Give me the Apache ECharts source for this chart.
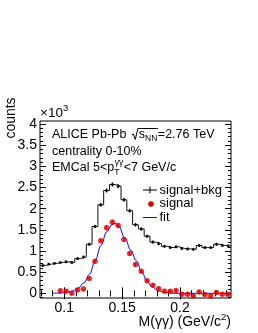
<!DOCTYPE html>
<html><head><meta charset="utf-8">
<script src="https://cdn.jsdelivr.net/npm/echarts@6/dist/echarts.min.js"></script>
<style>html,body{margin:0;padding:0;background:#fff}#c{width:258px;height:333px}</style>
</head><body><div id="c"></div>
<script>
// ---- data (counts in units of 10^3) ----
const binWidth = 0.005;
const binCenters = [0.0815,0.0865,0.0915,0.0965,0.1015,0.1065,0.1115,0.1165,0.1215,0.1265,0.1315,0.1365,0.1415,0.1465,0.1515,0.1565,0.1615,0.1665,0.1715,0.1765,0.1815,0.1865,0.1915,0.1965,0.2015,0.2065,0.2115,0.2165,0.2215,0.2265,0.2315,0.2365,0.2415];
const sigBkg = [0.66,0.69,0.71,0.73,0.745,0.73,0.82,0.86,1.16,1.58,2.09,2.43,2.57,2.53,2.21,1.95,1.62,1.52,1.35,1.21,1.17,1.11,1.08,1.10,1.06,1.05,1.04,1.13,1.08,1.08,1.16,1.13,1.12];
const sigBkgErr = [0.026,0.026,0.027,0.027,0.027,0.027,0.029,0.029,0.034,0.040,0.046,0.049,0.051,0.050,0.047,0.044,0.040,0.039,0.037,0.035,0.034,0.033,0.033,0.033,0.033,0.032,0.032,0.034,0.033,0.033,0.034,0.034,0.033];
const sigCenters = [0.0965,0.1015,0.1065,0.1115,0.1165,0.1215,0.1265,0.1315,0.1365,0.1415,0.1465,0.1515,0.1565,0.1615,0.1665,0.1715,0.1765,0.1815,0.1865,0.1915,0.1965,0.2015,0.2065,0.2115,0.2165,0.2215,0.2265,0.2315,0.2365,0.2415];
const signal = [0.06,0.05,0.00,0.08,0.10,0.35,0.76,1.24,1.55,1.68,1.60,1.27,0.94,0.68,0.52,0.30,0.19,0.11,0.05,0.05,0.07,-0.02,-0.02,-0.06,0.03,-0.03,-0.06,0.02,-0.02,-0.02];
const signalErr = [0.038,0.039,0.040,0.041,0.042,0.045,0.050,0.056,0.060,0.062,0.061,0.057,0.053,0.050,0.048,0.046,0.045,0.045,0.045,0.045,0.045,0.045,0.045,0.046,0.046,0.046,0.046,0.047,0.047,0.047];
const fitX = [0.0900,0.0963,0.1015,0.1066,0.1118,0.1170,0.1218,0.1265,0.1317,0.1366,0.1412,0.1438,0.1468,0.1524,0.1574,0.1622,0.1669,0.1712,0.1755,0.1812,0.1870,0.1930,0.1999,0.2100,0.2200,0.2300,0.2430];
const fitY = [0.00,0.005,0.02,0.05,0.12,0.25,0.45,0.76,1.13,1.45,1.62,1.65,1.60,1.30,1.02,0.77,0.51,0.30,0.16,0.06,0.02,0.005,0.0,0.0,0.0,0.0,0.0];
const xTickLabels = [0.1, 0.15, 0.2];
const yTickLabels = [0, 0.5, 1, 1.5, 2, 2.5, 3, 3.5, 4];
const xRange = [0.079, 0.244];
const yRange = [-0.11, 4.07];

// ---- helpers ----
const FONT = '"Liberation Sans", Arial, Helvetica, sans-serif';
const mctx = document.createElement('canvas').getContext('2d');
function tw(t, s) { mctx.font = s + 'px ' + FONT; return mctx.measureText(t).width; }
function txt(t, x, base, s, align, extra) {
  return Object.assign({
    type: 'text', x: x, y: base - 0.3465 * s, silent: true,
    style: { text: t, font: s + 'px ' + FONT, fill: '#000', align: align || 'left', textAlign: align || 'left', verticalAlign: 'middle', textVerticalAlign: 'middle' }
  }, extra || {});
}
function line(x1, y1, x2, y2, color) {
  return { type: 'line', silent: true, shape: { x1, y1, x2, y2 }, style: { stroke: color || '#000', lineWidth: 1 } };
}

const xMinor = []; for (let v = 0.08; v <= xRange[1] + 1e-9; v += 0.01) xMinor.push(+v.toFixed(3));
const yMinor = []; for (let v = -0.1; v <= yRange[1] + 1e-9; v += 0.1) yMinor.push(+v.toFixed(2));

function xAx(pos, vals, len, labels) {
  return {
    type: 'value', min: xRange[0], max: xRange[1], position: pos,
    axisLine: { show: false }, splitLine: { show: false },
    axisTick: { show: true, inside: true, length: len, customValues: vals, lineStyle: { color: '#000', width: 1 } },
    axisLabel: labels ? { show: true, customValues: vals, formatter: v => String(+v.toFixed(3)), color: '#000', fontSize: 14, fontFamily: FONT, margin: 3 } : { show: false }
  };
}
function yAx(pos, vals, len, labels) {
  return {
    type: 'value', min: yRange[0], max: yRange[1], position: pos,
    axisLine: { show: false }, splitLine: { show: false },
    axisTick: { show: true, inside: true, length: len, customValues: vals, lineStyle: { color: '#000', width: 1 } },
    axisLabel: labels ? { show: true, customValues: vals, formatter: v => String(+v.toFixed(2)), color: '#000', fontSize: 14, fontFamily: FONT, margin: 3 } : { show: false }
  };
}
function errSeries(xs, ys, es, color, z) {
  return {
    type: 'custom', xAxisIndex: 0, yAxisIndex: 0, z: z, silent: true,
    data: xs.map((x, i) => [x, ys[i], es[i]]),
    renderItem: (p, api) => {
      const x = api.value(0), y = api.value(1), e = api.value(2);
      const a = api.coord([x, y - e]), b = api.coord([x, y + e]);
      return { type: 'line', shape: { x1: a[0], y1: a[1], x2: b[0], y2: b[1] }, style: { stroke: color, lineWidth: 1 } };
    }
  };
}

const last = binCenters.length - 1;
const stepData = binCenters.map((c, i) => [c - binWidth / 2, sigBkg[i]]);
stepData.push([binCenters[last] + binWidth / 2, sigBkg[last]]);

// ---- text graphics ----
const g = [];
// ALICE line
let x = 52, b = 139, s = 12.5;
g.push(txt('ALICE Pb-Pb', x, b, s)); x += tw('ALICE Pb-Pb ', s) + 2;
const sq0 = x;
x += 7;
g.push(txt('s', x, b, s)); x += tw('s', s);
g.push(txt('NN', x, b + 3, 8.5)); x += tw('NN', 8.5) + 0.5;
g.push({ type: 'polyline', silent: true, shape: { points: [[sq0, b - 4], [sq0 + 1.5, b - 5], [sq0 + 3.5, b + 0.5], [sq0 + 6, b - 10.5], [x, b - 10.5]] }, style: { stroke: '#000', lineWidth: 1, fill: null } });
g.push(txt('=2.76 TeV', x, b, s));
// centrality
g.push(txt('centrality 0-10%', 52, 155.5, s));
// EMCal
x = 52; b = 172;
g.push(txt('EMCal 5<p', x, b, s)); x += tw('EMCal 5<p', s);
g.push(txt('T', x, b + 3.5, 8.5));
g.push(txt('γγ', x + 0.5, b - 6, 8.5));
x += Math.max(tw('T', 8.5), tw('γγ', 8.5) + 0.5) + 0.5;
g.push(txt('<7 GeV/c', x, b, s));
// legend
g.push(line(143, 190, 157, 190)); g.push(line(150, 186.5, 150, 193.5));
g.push(txt('signal+bkg', 159.5, 194.5, 13));
g.push({ type: 'circle', silent: true, shape: { cx: 151, cy: 204, r: 2.8 }, style: { fill: '#e00000' } });
g.push(txt('signal', 159.5, 208, 13));
g.push(line(143, 217.5, 157, 217.5, '#0000ff'));
g.push(txt('fit', 159.5, 221.5, 13));
// x title (right aligned at 231)
{
  const s1 = 'M(γγ) (GeV/c', s2 = '2', s3 = ')';
  const w = tw(s1, 14) + tw(s2, 9.5) + tw(s3, 14);
  let xx = 231 - w, bb = 327;
  g.push(txt(s1, xx, bb, 14)); xx += tw(s1, 14);
  g.push(txt(s2, xx, bb - 6, 9.5)); xx += tw(s2, 9.5);
  g.push(txt(s3, xx, bb, 14));
}
// y title
g.push({ type: 'text', x: 11, y: 118, rotation: Math.PI / 2, silent: true,
  style: { text: 'counts', font: '14px ' + FONT, fill: '#000', align: 'center', textAlign: 'center', verticalAlign: 'middle', textVerticalAlign: 'middle' } });
// x10^3
g.push(txt('×10', 40, 117.5, 13.5));
g.push(txt('3', 40 + tw('×10', 13.5), 112, 9.5));

const chart = echarts.init(document.getElementById('c'), null, { renderer: 'canvas' });
chart.setOption({
  animation: false,
  backgroundColor: '#fff',
  grid: { left: 40, top: 121, width: 191, height: 177, show: true, borderColor: '#000', borderWidth: 1, backgroundColor: 'transparent' },
  xAxis: [xAx('bottom', xTickLabels, 6, true), xAx('bottom', xMinor, 3, false), xAx('top', xTickLabels, 6, false), xAx('top', xMinor, 3, false)],
  yAxis: [yAx('left', yTickLabels, 6, true), yAx('left', yMinor, 3, false), yAx('right', yTickLabels, 6, false), yAx('right', yMinor, 3, false)],
  series: [
    { name: 'signal+bkg', type: 'line', step: 'end', data: stepData, symbol: 'none', lineStyle: { color: '#111', width: 1 }, z: 2, silent: true },
    errSeries(binCenters, sigBkg, sigBkgErr, '#000', 3),
    { type: 'scatter', data: binCenters.map((c, i) => [c, sigBkg[i]]), symbol: 'circle', symbolSize: 3, itemStyle: { color: '#000' }, z: 4, silent: true },
    { name: 'fit', type: 'line', data: fitX.map((v, i) => [v, fitY[i]]), smooth: 0.4, smoothMonotone: 'x', symbol: 'none', lineStyle: { color: '#0000ff', width: 1 }, z: 5, silent: true },
    errSeries(sigCenters, signal, signalErr, '#e00000', 6),
    { name: 'signal', type: 'scatter', data: sigCenters.map((c, i) => [c, signal[i]]), symbol: 'circle', symbolSize: 5.5, itemStyle: { color: '#e00000' }, z: 7, silent: true }
  ],
  graphic: { elements: g }
});
</script></body></html>
